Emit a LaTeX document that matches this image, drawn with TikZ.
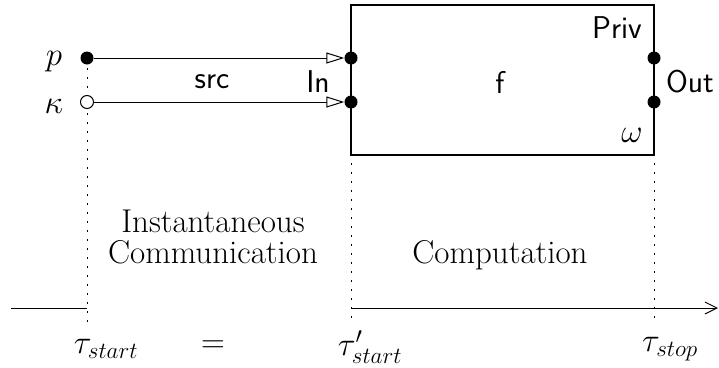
\RequirePackage{fix-cm}
\documentclass[tikz,border=0pt]{standalone}
\usetikzlibrary{arrows.meta}
\begin{document}
\begin{tikzpicture}[x=1pt,y=-1pt,
  dot/.style={circle,fill=black,inner sep=0pt,minimum size=13pt},
  odot/.style={circle,draw=black,fill=white,line width=1pt,inner sep=0pt,minimum size=13pt},
  sans/.style={font=\fontsize{31.5}{34}\selectfont\sffamily,inner sep=0pt},
  serif/.style={font=\fontsize{33}{38}\selectfont,inner sep=0pt},
  wire/.style={line width=1pt,-{Triangle[open,length=18pt,width=11pt,line width=1pt]}},
  guide/.style={line width=1pt,dash pattern=on 1.5pt off 7.5pt},
  axis/.style={line width=1pt}]
\useasboundingbox (0,0) rectangle (719,367);
% box
\node[draw,line width=2.5pt,minimum width=303pt,minimum height=150pt,inner sep=0pt] (box) at (502.5,80) {};
% guide coordinates
\coordinate (gA) at (87,322);
\coordinate (gB) at (351,322);
\coordinate (gC) at (654,322);
\coordinate (boxbl) at (351,163);
\coordinate (boxbr) at (654,163);
\coordinate (pbelow) at (87,68);
% dotted guides
\draw[guide] (pbelow) -- (gA);
\draw[guide] (boxbl) -- (gB);
\draw[guide] (boxbr) -- (gC);
% source dots
\node[dot] (p) at (87,58) {};
\node[odot] (k) at (87,102) {};
\node[dot] (in1) at (351,58) {};
\node[dot] (in2) at (351,102) {};
\node[dot] (out1) at (654,58) {};
\node[dot] (out2) at (654,102) {};
% wires
\draw[wire] (p) -- (in1);
\draw[wire] (k) -- (in2);
% labels
\node[serif] (lp) at (54,62) {$p$};
\node[serif] (lk) at (54,106) {$\kappa$};
\node[sans] (src) at (212,82) {src};
\node[sans] (In) at (318,82) {In};
\node[sans] (f) at (500,82) {f};
\node[sans] (priv) at (617,28) {Priv};
\node[sans] (out) at (690,82) {Out};
\node[serif] (om) at (632,135) {$\omega$};
\node[serif,anchor=base] (inst) at (213,232) {Instantaneous};
\node[serif,anchor=base] (comm) at (213,263) {Communication};
\node[serif,anchor=base] (comp) at (500,263) {Computation};
% timeline
\coordinate (t0) at (11,308);
\coordinate (tA) at (87,308);
\coordinate (tB) at (351,308);
\coordinate (tE) at (718,308);
\draw[axis] (t0) -- (tA);
\draw[axis,-{Straight Barb[length=12pt,width=12pt,line width=1pt]}] (tB) -- (tE);
% time labels
\node[serif] (ts) at (106,349) {$\tau_{start}$};
\node[serif] (eq) at (213,347) {$=$};
\node[serif] (tsp) at (370,347) {$\tau'_{start}$};
\node[serif] (tp) at (670,349) {$\tau_{stop}$};
\end{tikzpicture}
\end{document}
